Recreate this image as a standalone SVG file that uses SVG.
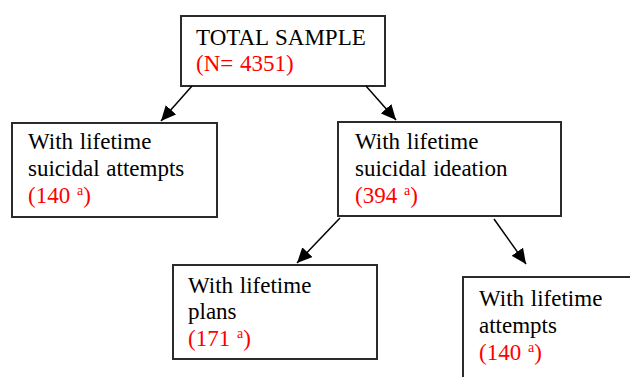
<svg xmlns="http://www.w3.org/2000/svg" width="630" height="377" viewBox="0 0 630 377">
<style>
.box{fill:#fff;stroke:#2b2b2b;stroke-width:2}
.t{font-family:"Liberation Serif","Times New Roman",serif;font-size:23px;fill:#000;word-spacing:1px}
.r{fill:#ff0000}
.sup{font-size:14px}
.conn line{stroke:#000;stroke-width:1.5}
</style>
<defs>
<marker id="ah" markerUnits="userSpaceOnUse" markerWidth="16" markerHeight="14" refX="15" refY="7" orient="auto">
<path d="M0,0 L15,7 L0,14 Z" fill="#000"/>
</marker>
</defs>
<rect width="630" height="377" fill="#fff"/>
<g id="n-total">
<rect class="box" x="181" y="16" width="204" height="70"/>
<text class="t" x="196" y="45">TOTAL SAMPLE</text>
<text class="t r" x="196" y="71">(N= 4351)</text>
</g>
<g id="n-attempts">
<rect class="box" x="12" y="123" width="205" height="94"/>
<text class="t" x="28" y="149">With lifetime</text>
<text class="t" x="28" y="176">suicidal attempts</text>
<text class="t r" x="28" y="203">(140 <tspan class="sup" dy="-8">a</tspan><tspan dy="8">)</tspan></text>
</g>
<g id="n-ideation">
<rect class="box" x="338" y="122" width="223" height="94"/>
<text class="t" x="355" y="149">With lifetime</text>
<text class="t" x="355" y="176">suicidal ideation</text>
<text class="t r" x="355" y="203">(394 <tspan class="sup" dy="-8">a</tspan><tspan dy="8">)</tspan></text>
</g>
<g id="n-plans">
<rect class="box" x="173" y="265" width="204" height="94"/>
<text class="t" x="188" y="293">With lifetime</text>
<text class="t" x="188" y="319">plans</text>
<text class="t r" x="188" y="346">(171 <tspan class="sup" dy="-8">a</tspan><tspan dy="8">)</tspan></text>
</g>
<g id="n-attempts2">
<rect class="box" x="463" y="277" width="180" height="110"/>
<text class="t" x="479" y="306">With lifetime</text>
<text class="t" x="479" y="333">attempts</text>
<text class="t r" x="479" y="360">(140 <tspan class="sup" dy="-8">a</tspan><tspan dy="8">)</tspan></text>
</g>
<g id="connectors" class="conn">
<line x1="192" y1="86" x2="161" y2="121" marker-end="url(#ah)"/>
<line x1="366" y1="86" x2="396" y2="120" marker-end="url(#ah)"/>
<line x1="340" y1="218" x2="297" y2="263" marker-end="url(#ah)"/>
<line x1="494" y1="219" x2="526" y2="264" marker-end="url(#ah)"/>
</g>
</svg>
